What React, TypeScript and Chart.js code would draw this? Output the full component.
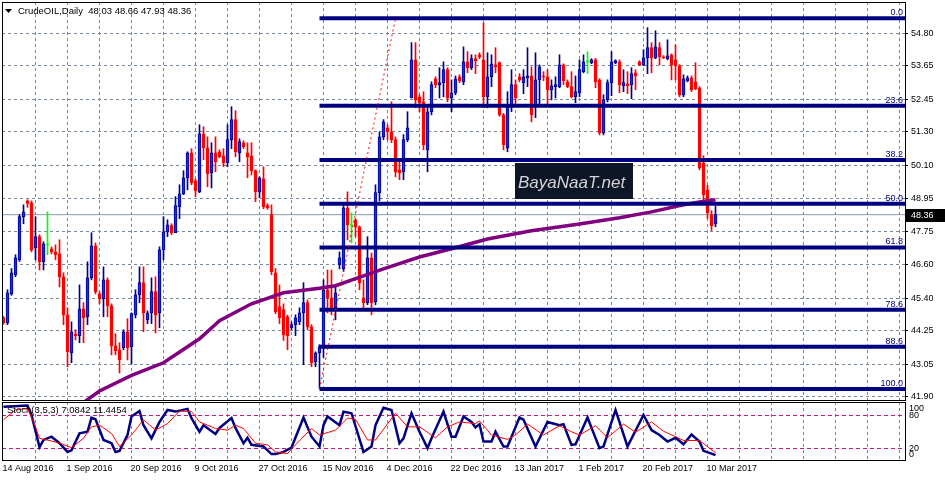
import React, { useEffect, useRef } from "react";
import { Chart, registerables } from "chart.js";

Chart.register(...registerables);

// ---------------- data ----------------
const symbolTitle = "CrudeOIL,Daily";

const opens = [
  44.70, 44.53, 45.55, 46.23, 46.76, 48.29, 48.85, 48.78, 47.19, 47.58,
  46.69, 47.29, 47.15, 47.04, 46.97, 46.16, 44.81, 43.46, 44.14, 44.07,
  45.02, 44.74, 46.12, 47.26, 45.55, 45.38, 46.05, 45.13, 43.71, 43.57,
  43.64, 44.21, 43.68, 44.81, 45.52, 45.95, 44.63, 44.88, 45.63, 44.88,
  47.11, 47.75, 47.97, 47.72, 48.64, 49.10, 49.67, 50.55, 49.56, 49.17,
  51.23, 50.73, 49.85, 50.55, 50.59, 50.45, 50.20, 51.02, 51.73, 50.55,
  50.91, 50.55, 50.45, 49.92, 49.17, 49.63, 48.68, 48.36, 46.30, 45.10,
  45.00, 44.74, 44.35, 44.46, 44.56, 44.88, 45.24, 44.38, 43.14, 43.46,
  43.68, 45.70, 45.41, 45.06, 46.58, 46.45, 48.60, 47.97, 48.18, 47.93,
  45.41, 45.24, 46.83, 45.27, 49.14, 51.12, 51.44, 51.30, 51.02, 49.95,
  49.88, 51.02, 52.50, 53.85, 52.54, 52.36, 50.66, 52.01, 53.18, 52.97,
  53.04, 53.50, 52.50, 52.68, 53.25, 53.07, 53.78, 53.57, 53.89, 54.03,
  53.85, 52.54, 53.25, 53.67, 53.75, 51.90, 50.73, 52.19, 52.97, 53.25,
  53.04, 53.21, 53.28, 52.19, 53.14, 53.27, 53.25, 52.79, 52.90, 52.90,
  53.67, 53.07, 52.90, 52.54, 52.68, 53.43, 53.78, 53.75, 53.85, 53.14,
  51.26, 52.43, 53.04, 53.75, 53.78, 52.93, 53.00, 52.97, 53.39, 53.78,
  53.67, 53.92, 54.28, 53.92, 54.28, 53.96, 53.89, 54.03, 53.85, 53.64,
  52.61, 53.11, 53.21, 53.07, 52.86, 50.20, 49.24, 48.36, 48.03,
];
const highs = [
  44.75, 45.70, 46.45, 46.94, 48.36, 48.71, 48.89, 48.85, 48.29, 47.65,
  47.40, 48.46, 47.22, 47.29, 47.47, 46.30, 45.06, 44.56, 44.28, 45.87,
  45.24, 46.69, 47.72, 47.36, 45.63, 46.51, 46.12, 45.20, 44.14, 43.82,
  44.28, 44.67, 44.88, 45.70, 46.51, 46.51, 44.95, 46.12, 46.16, 47.22,
  48.29, 48.18, 48.04, 49.00, 49.42, 49.92, 50.59, 50.70, 49.63, 51.55,
  51.48, 51.12, 50.91, 51.12, 50.66, 50.70, 51.55, 52.19, 52.05, 51.05,
  50.98, 50.91, 50.91, 49.95, 49.70, 50.06, 48.75, 48.71, 46.45, 45.87,
  45.20, 44.80, 44.56, 44.81, 45.06, 45.95, 45.34, 44.46, 43.50, 43.75,
  46.05, 46.40, 46.40, 45.80, 47.04, 48.70, 49.17, 48.43, 48.22, 47.96,
  46.05, 47.58, 47.00, 49.42, 51.30, 51.73, 51.55, 52.36, 51.12, 50.30,
  51.20, 52.01, 54.46, 54.46, 52.61, 52.72, 52.19, 53.07, 53.25, 53.57,
  53.78, 53.57, 53.14, 53.28, 53.32, 54.31, 54.14, 54.03, 54.03, 54.10,
  55.16, 54.10, 54.03, 54.28, 53.78, 51.95, 52.72, 53.50, 53.14, 53.36,
  53.50, 54.28, 53.60, 54.10, 53.67, 53.43, 53.50, 53.14, 53.25, 54.03,
  53.71, 53.14, 53.43, 53.28, 53.85, 54.03, 54.14, 53.89, 53.90, 53.18,
  52.61, 53.14, 54.14, 53.85, 53.85, 53.50, 53.43, 53.57, 53.50, 53.82,
  54.21, 54.99, 54.46, 54.88, 54.46, 54.00, 54.56, 54.06, 54.38, 53.68,
  53.32, 53.28, 53.28, 53.75, 52.90, 50.45, 49.40, 48.50, 48.66,
];
const lows = [
  44.48, 44.46, 45.50, 46.16, 46.70, 48.04, 48.62, 47.04, 46.76, 46.40,
  46.40, 46.94, 46.97, 46.76, 45.80, 44.46, 42.97, 43.11, 43.92, 43.82,
  43.82, 44.46, 46.05, 45.55, 45.20, 44.74, 44.74, 43.39, 43.39, 42.75,
  43.57, 43.21, 43.07, 44.70, 45.24, 44.21, 44.50, 44.50, 44.17, 44.35,
  46.76, 47.58, 47.65, 47.72, 48.22, 49.07, 49.24, 49.42, 49.00, 49.14,
  50.31, 49.35, 49.31, 49.88, 50.38, 50.06, 50.06, 50.70, 50.41, 50.24,
  50.70, 49.67, 49.77, 48.82, 48.96, 48.57, 48.55, 46.23, 44.85, 44.50,
  43.90, 43.57, 44.28, 44.07, 44.46, 43.04, 44.28, 42.97, 42.97, 42.19,
  43.30, 44.88, 44.81, 44.63, 46.44, 46.35, 47.47, 47.36, 47.58, 45.70,
  45.06, 45.17, 44.81, 45.17, 48.85, 51.02, 51.02, 50.91, 49.70, 49.60,
  49.60, 50.95, 52.50, 52.15, 52.01, 50.66, 49.88, 51.90, 52.86, 52.50,
  52.54, 52.36, 52.01, 52.61, 53.04, 52.97, 53.39, 53.50, 53.36, 53.89,
  52.15, 52.15, 52.90, 53.39, 51.85, 50.66, 50.59, 52.01, 52.19, 53.07,
  52.65, 52.90, 51.65, 51.80, 52.26, 53.11, 52.26, 52.43, 52.50, 52.86,
  52.97, 52.86, 52.50, 52.33, 52.54, 53.39, 53.36, 53.71, 52.86, 51.19,
  51.19, 52.36, 52.58, 53.71, 52.68, 52.72, 52.65, 52.47, 52.79, 53.64,
  53.64, 53.36, 53.39, 53.89, 53.67, 53.89, 53.85, 53.14, 53.14, 52.54,
  52.54, 53.07, 52.72, 52.79, 49.95, 48.85, 48.22, 47.80, 47.93,
];
const closes = [
  44.53, 45.59, 46.30, 46.83, 48.29, 48.46, 48.76, 47.11, 47.58, 46.69,
  47.33, 47.29, 47.04, 46.94, 46.16, 44.81, 43.50, 44.21, 44.07, 45.02,
  44.70, 46.12, 47.26, 45.63, 45.38, 46.05, 45.13, 43.71, 43.53, 43.21,
  44.21, 43.64, 44.85, 45.52, 45.95, 44.88, 44.88, 45.63, 44.81, 47.11,
  47.75, 48.00, 47.72, 48.68, 49.10, 49.67, 50.55, 49.49, 49.21, 51.23,
  50.73, 49.81, 50.55, 50.24, 50.41, 50.20, 51.02, 51.73, 50.59, 50.95,
  50.77, 50.41, 49.92, 49.17, 49.67, 48.64, 48.60, 46.33, 44.92, 44.70,
  44.10, 44.07, 44.46, 44.70, 44.88, 45.24, 44.38, 43.11, 43.46, 43.68,
  45.70, 45.41, 45.06, 45.59, 46.83, 48.60, 48.00, 47.97, 47.93, 45.95,
  45.24, 46.83, 45.24, 49.14, 51.12, 51.65, 51.30, 51.02, 49.88, 49.85,
  51.02, 51.44, 53.85, 52.43, 52.33, 50.84, 52.01, 52.97, 52.97, 53.04,
  53.50, 52.50, 52.68, 53.18, 53.11, 53.78, 53.57, 53.89, 53.82, 53.96,
  52.54, 53.25, 53.71, 53.60, 51.90, 50.84, 52.19, 52.97, 52.50, 53.14,
  53.25, 53.28, 51.90, 53.14, 53.60, 53.24, 52.79, 52.93, 52.97, 53.67,
  53.11, 52.90, 52.54, 52.72, 53.50, 53.78, 53.78, 53.85, 53.07, 51.26,
  52.43, 53.04, 53.78, 53.82, 52.97, 53.04, 52.93, 53.36, 53.28, 53.67,
  53.92, 54.28, 53.92, 54.31, 53.96, 53.92, 53.99, 53.67, 53.64, 52.61,
  53.18, 53.21, 52.79, 52.82, 50.02, 49.07, 48.43, 47.97, 48.36,
];

// date labels, one every 16 bars
const dateLabels = [
  "14 Aug 2016", "1 Sep 2016", "20 Sep 2016", "9 Oct 2016", "27 Oct 2016", "15 Nov 2016",
  "4 Dec 2016", "22 Dec 2016", "13 Jan 2017", "1 Feb 2017", "20 Feb 2017", "10 Mar 2017",
];
const priceTicks = [41.90, 43.05, 44.25, 45.40, 46.60, 47.75, 48.95, 50.10, 51.30, 52.45, 53.65, 54.80];

// 200-period moving average (bar index, value)
const maBars = [20, 24, 32, 40, 49, 54, 62, 70, 74, 79, 83, 90, 95, 104, 112, 121, 132, 144, 154, 162, 170, 174, 178];
const maValues = [41.70, 42.11, 42.66, 43.11, 43.96, 44.60, 45.20, 45.59, 45.66, 45.75, 45.84, 46.19, 46.44, 46.86, 47.15, 47.50, 47.79, 48.03, 48.25, 48.46, 48.71, 48.81, 48.89];

// Fibonacci retracement
const fibLevels = [0.0, 23.6, 38.2, 50.0, 61.8, 78.6, 88.6, 100.0];
const fibHigh = 55.32;
const fibLow = 42.18;
const fibLowBar = 79;
const fibHighBar = 98;

// Stochastic (3,5,3)
const stochKBars = [0, 6, 7, 9, 10, 12, 14, 16, 17, 19, 21, 22, 23, 25, 27, 28, 29, 31, 32, 34, 35, 37, 39, 41, 43, 46, 47, 49, 50, 53, 54, 57, 58, 60, 61, 62, 65, 67, 68, 70, 72, 75, 77, 79, 80, 81, 84, 85, 87, 90, 92, 93, 95, 97, 99, 100, 102, 104, 106, 107, 110, 112, 113, 115, 117, 118, 119, 120, 122, 123, 125, 126, 129, 130, 133, 136, 139, 140, 142, 143, 146, 149, 150, 153, 156, 160, 162, 164, 166, 168, 170, 172, 174, 175, 177, 178];
const stochKValues = [96, 98, 81, 22, 35, 41, 29, 13, 16, 47, 50, 76, 73, 35, 29, 13, 15, 44, 78, 88, 62, 38, 68, 90, 87, 92, 75, 50, 62, 46, 57, 75, 57, 29, 39, 26, 23, 9, 9, 13, 21, 76, 41, 23, 62, 78, 62, 87, 84, 13, 23, 62, 94, 90, 29, 38, 84, 50, 20, 38, 87, 41, 41, 78, 68, 58, 64, 32, 32, 50, 23, 23, 76, 72, 23, 68, 62, 64, 26, 27, 76, 20, 23, 90, 23, 81, 53, 44, 32, 39, 27, 45, 32, 15, 10, 7.0842];
const stochDBars = [0, 3, 6, 8, 9, 12, 14, 17, 20, 22, 24, 27, 29, 32, 35, 38, 41, 44, 47, 49, 53, 56, 58, 60, 63, 66, 68, 71, 73, 77, 79, 83, 86, 88, 91, 93, 98, 101, 104, 108, 111, 114, 118, 119, 122, 126, 128, 131, 135, 139, 142, 144, 148, 151, 155, 158, 162, 165, 168, 170, 174, 178];
const stochDValues = [72, 90, 93, 59, 38, 33, 29, 21, 38, 59, 62, 47, 23, 44, 72, 53, 65, 88, 87, 68, 56, 53, 62, 56, 29, 26, 13, 10, 26, 56, 44, 53, 75, 73, 35, 35, 84, 59, 59, 39, 59, 68, 65, 70, 44, 36, 44, 64, 44, 61, 50, 44, 61, 39, 64, 49, 68, 51, 41, 34, 34, 11.4454];
const stochLevels = [100, 80, 20, 0];
const stochTitle = "Stoch(3,5,3) 7.0842 11.4454";

// ---------------- styling ----------------
const FONT = "'Liberation Sans', Arial, sans-serif";
const GRID = "#778899";
const BULL_FILL = "#1030F0";
const BULL_LINE = "#000090";
const BEAR = "#FF0000";
const DOJI = "#00FF00";
const X_MIN = -0.375;
const X_MAX = 225.375;
const Y_MIN = 41.79;
const Y_MAX = 55.90;

const n = closes.length;
const idx = Array.from({ length: n }, (_, i) => i);
const kind = (i: number) => (closes[i] > opens[i] ? 1 : closes[i] < opens[i] ? -1 : 0);
const lastPrice = closes[n - 1];
const fibPrice = (lvl: number) => fibHigh - ((fibHigh - fibLow) * lvl) / 100;
const gridBars = Array.from({ length: 29 }, (_, k) => k * 8);

const mainDecor = {
  id: "mainDecor",
  afterDraw(chart: any) {
    const { ctx, chartArea } = chart;
    const ys = chart.scales.y;
    const { left, top, right, bottom } = chartArea;
    ctx.save();
    // fib labels
    ctx.font = `9px ${FONT}`;
    ctx.fillStyle = "#000080";
    ctx.textAlign = "right";
    ctx.textBaseline = "alphabetic";
    fibLevels.forEach((lvl) => {
      const y = ys.getPixelForValue(fibPrice(lvl));
      ctx.fillText(lvl.toFixed(1), right - 2, y - 3);
    });
    // logo
    const lx = left + 513, ly = top + 161;
    ctx.fillStyle = "#0c1626";
    ctx.fillRect(lx, ly, 118, 36);
    ctx.save();
    ctx.beginPath();
    ctx.rect(lx, ly, 118, 36);
    ctx.clip();
    ctx.font = `italic 17px ${FONT}`;
    ctx.fillStyle = "#d4d4d4";
    ctx.textAlign = "left";
    ctx.fillText("BayaNaaT.net", lx + 3, ly + 25);
    ctx.restore();
    // frame
    ctx.strokeStyle = "#000";
    ctx.lineWidth = 1;
    ctx.strokeRect(left + 0.5, top + 0.5, right - left, bottom - top);
    // header
    ctx.fillStyle = "#000";
    ctx.beginPath();
    ctx.moveTo(left + 3, top + 7);
    ctx.lineTo(left + 10, top + 7);
    ctx.lineTo(left + 6.5, top + 11);
    ctx.closePath();
    ctx.fill();
    ctx.font = `9.5px ${FONT}`;
    ctx.textAlign = "left";
    const hdr = `${symbolTitle}  ${opens[n - 1].toFixed(2)} ${highs[n - 1].toFixed(2)} ${lows[n - 1].toFixed(2)} ${closes[n - 1].toFixed(2)}`;
    ctx.fillText(hdr, left + 16, top + 12);
    // last price box
    const py = Math.round(ys.getPixelForValue(lastPrice));
    ctx.fillStyle = "#000";
    ctx.fillRect(right + 1, py - 6, 40, 13);
    ctx.fillStyle = "#fff";
    ctx.font = `9px ${FONT}`;
    ctx.textBaseline = "middle";
    ctx.fillText(lastPrice.toFixed(2), right + 6, py + 1);
    ctx.restore();
  },
};

const subDecor = {
  id: "subDecor",
  beforeDatasetsDraw(chart: any) {
    const { ctx, chartArea } = chart;
    const ys = chart.scales.y;
    ctx.save();
    ctx.strokeStyle = "#C71585";
    ctx.lineWidth = 1;
    ctx.setLineDash([4, 3]);
    [80, 20].forEach((v) => {
      const y = Math.round(ys.getPixelForValue(v)) + 0.5;
      ctx.beginPath();
      ctx.moveTo(chartArea.left, y);
      ctx.lineTo(chartArea.right, y);
      ctx.stroke();
    });
    ctx.restore();
  },
  afterDraw(chart: any) {
    const { ctx, chartArea } = chart;
    const ys = chart.scales.y;
    const { left, top, right, bottom } = chartArea;
    ctx.save();
    ctx.strokeStyle = "#000";
    ctx.lineWidth = 1;
    ctx.strokeRect(left + 0.5, top + 0.5, right - left, bottom - top);
    ctx.fillStyle = "#000";
    ctx.font = `9.5px ${FONT}`;
    ctx.textAlign = "left";
    ctx.textBaseline = "alphabetic";
    ctx.fillText(stochTitle, left + 5, top + 11);
    ctx.font = `9px ${FONT}`;
    ctx.textBaseline = "middle";
    stochLevels.forEach((v) => {
      let y = ys.getPixelForValue(v);
      y = Math.min(Math.max(y, top + 7), bottom - 5);
      ctx.fillText(String(v), right + 4, y);
    });
    ctx.restore();
  },
};

function mainConfig(): any {
  const lineDs = (data: any[], color: string, width: number, order: number, dash: number[] = []) => ({
    type: "line",
    data,
    borderColor: color,
    borderWidth: width,
    borderDash: dash,
    pointRadius: 0,
    tension: 0,
    fill: false,
    clip: 0,
    order,
  });
  return {
    type: "bar",
    data: {
      datasets: [
        lineDs([{ x: X_MIN, y: lastPrice }, { x: X_MAX, y: lastPrice }], "#8a9aaa", 1, 10),
        {
          type: "bar",
          data: idx.map((i) => ({ x: i, y: [lows[i], highs[i]] })),
          backgroundColor: idx.map((i) => (kind(i) > 0 ? BULL_LINE : kind(i) < 0 ? BEAR : DOJI)),
          borderWidth: 0,
          barThickness: 1,
          grouped: false,
          order: 9,
        },
        {
          type: "bar",
          data: idx.map((i) => ({ x: i, y: [opens[i], closes[i]] })),
          backgroundColor: idx.map((i) => (kind(i) > 0 ? BULL_FILL : kind(i) < 0 ? BEAR : DOJI)),
          borderColor: idx.map((i) => (kind(i) > 0 ? BULL_LINE : kind(i) < 0 ? BEAR : DOJI)),
          borderWidth: 1,
          borderSkipped: false,
          barThickness: 3,
          minBarLength: 1,
          grouped: false,
          order: 8,
        },
        lineDs(maBars.map((b, k) => ({ x: b, y: maValues[k] })), "#800080", 3.5, 7),
        ...fibLevels.map((lvl) =>
          lineDs([{ x: fibLowBar, y: fibPrice(lvl) }, { x: X_MAX, y: fibPrice(lvl) }], "#000080", 4, 6)
        ),
        lineDs([{ x: fibLowBar, y: fibLow }, { x: fibHighBar, y: fibHigh }], "#FF0000", 1, 5, [2, 3]),
      ],
    },
    options: {
      responsive: false,
      animation: false,
      devicePixelRatio: 1,
      events: [],
      layout: { padding: { left: 2, top: 2, right: 0, bottom: 1 } },
      plugins: { legend: { display: false }, tooltip: { enabled: false }, title: { display: false } },
      scales: {
        x: {
          type: "linear",
          min: X_MIN,
          max: X_MAX,
          offset: false,
          grid: {
            offset: false,
            drawTicks: false,
            color: (c: any) => (c.tick && c.tick.value === 0 ? "rgba(0,0,0,0)" : GRID),
            lineWidth: 1,
          },
          border: { display: false, dash: [3, 3] },
          ticks: { display: false },
          afterBuildTicks: (s: any) => {
            s.ticks = gridBars.map((v) => ({ value: v }));
          },
          afterFit: (s: any) => {
            s.height = 0;
            s.paddingLeft = 0;
            s.paddingRight = 0;
          },
        },
        y: {
          type: "linear",
          position: "right",
          min: Y_MIN,
          max: Y_MAX,
          beginAtZero: false,
          grid: { color: GRID, lineWidth: 1, drawTicks: true, tickLength: 3, tickColor: "#000", tickBorderDash: [] },
          border: { display: false, dash: [3, 3] },
          ticks: {
            color: "#000",
            font: { family: FONT, size: 9 },
            padding: 3,
            autoSkip: false,
            callback: (v: any) => Number(v).toFixed(2),
          },
          afterBuildTicks: (s: any) => {
            s.ticks = priceTicks.map((v) => ({ value: v }));
          },
          afterFit: (s: any) => {
            s.width = 40;
            s.paddingTop = 0;
            s.paddingBottom = 0;
          },
        },
      },
    },
    plugins: [mainDecor],
  };
}

function subConfig(): any {
  return {
    type: "line",
    data: {
      datasets: [
        {
          data: stochKBars.map((b, k) => ({ x: b, y: stochKValues[k] })),
          borderColor: "#000080",
          borderWidth: 2.5,
          pointRadius: 0,
          tension: 0,
          fill: false,
          clip: 0,
          order: 1,
        },
        {
          data: stochDBars.map((b, k) => ({ x: b, y: stochDValues[k] })),
          borderColor: "#FF0000",
          borderWidth: 1,
          pointRadius: 0,
          tension: 0,
          fill: false,
          clip: 0,
          order: 0,
        },
      ],
    },
    options: {
      responsive: false,
      animation: false,
      devicePixelRatio: 1,
      events: [],
      layout: { padding: { left: 2, top: 1, right: 40, bottom: 0 } },
      plugins: { legend: { display: false }, tooltip: { enabled: false } },
      scales: {
        x: {
          type: "linear",
          min: X_MIN,
          max: X_MAX,
          offset: false,
          grid: {
            offset: false,
            drawTicks: false,
            color: (c: any) => (c.tick && c.tick.value === 0 ? "rgba(0,0,0,0)" : GRID),
          },
          border: { display: false, dash: [3, 3] },
          ticks: {
            color: "#000",
            font: { family: FONT, size: 9 },
            align: "start",
            maxRotation: 0,
            minRotation: 0,
            autoSkip: false,
            padding: 3,
            labelOffset: -1,
            callback: (v: any) => {
              const k = Math.round(Number(v));
              return k % 16 === 0 && k / 16 < dateLabels.length ? dateLabels[k / 16] : "";
            },
          },
          afterBuildTicks: (s: any) => {
            s.ticks = gridBars.map((v) => ({ value: v }));
          },
          afterFit: (s: any) => {
            s.height = 21;
            s.paddingLeft = 0;
            s.paddingRight = 0;
          },
        },
        y: {
          type: "linear",
          display: false,
          min: -1.8,
          max: 104.6,
        },
      },
    },
    plugins: [subDecor],
  };
}

export default function App() {
  const mainRef = useRef<HTMLCanvasElement>(null);
  const subRef = useRef<HTMLCanvasElement>(null);
  useEffect(() => {
    const main = new Chart(mainRef.current as HTMLCanvasElement, mainConfig());
    const sub = new Chart(subRef.current as HTMLCanvasElement, subConfig());
    return () => {
      main.destroy();
      sub.destroy();
    };
  }, []);
  return (
    <div style={{ position: "absolute", left: 0, top: 0, width: 945, height: 481, background: "#fff", overflow: "hidden" }}>
      <canvas ref={mainRef} width={945} height={401} style={{ position: "absolute", left: 0, top: 0, width: 945, height: 401 }} />
      <canvas ref={subRef} width={945} height={80} style={{ position: "absolute", left: 0, top: 401, width: 945, height: 80 }} />
    </div>
  );
}
